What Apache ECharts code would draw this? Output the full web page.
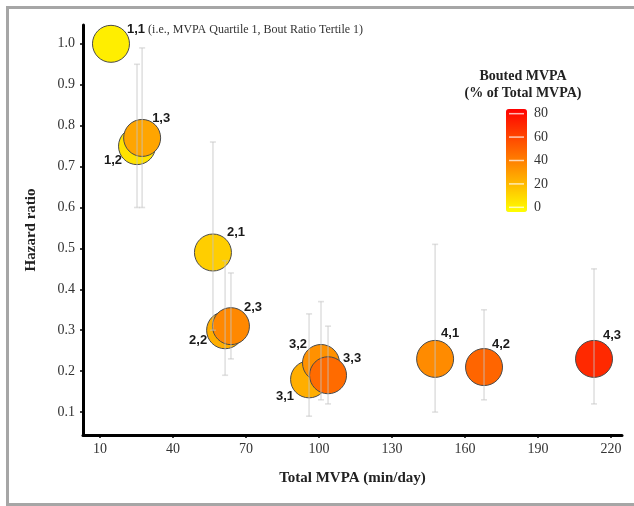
<!DOCTYPE html>
<html>
	<head>
		<meta charset="UTF-8" />
		<title>Hazard ratio by MVPA</title>
		<style>
			body { margin: 0; background: #fff; }
			#frame {
				position: absolute; left: 6px; top: 6px; width: 640px; height: 494px;
				border: 3px solid #a6a6a6; border-right: none;
			}
			#pic { position: absolute; left: 0; top: 0; width: 634px; height: 506px; }
		</style>
	</head>
	<body>
		<div id="frame"></div>
		<div id="pic"></div>
		<script src="https://cdn.jsdelivr.net/npm/echarts@6/dist/echarts.min.js"></script>
		<script>
			// groups: MVPA quartile, bout ratio tertile
			var groups = ['1,1', '1,2', '1,3', '2,1', '2,2', '2,3', '3,1', '3,2', '3,3', '4,1', '4,2', '4,3'];
			var totalMvpa = [14.5, 25.2, 27.3, 56.4, 61.4, 63.8, 95.9, 100.8, 103.7, 147.7, 167.8, 213];
			var hazard = [1.0, 0.75, 0.77, 0.49, 0.30, 0.31, 0.18, 0.22, 0.19, 0.23, 0.21, 0.23];
			var ciLow = [null, 0.60, 0.60, 0.30, 0.19, 0.23, 0.09, 0.13, 0.12, 0.10, 0.13, 0.12];
			var ciHigh = [null, 0.95, 0.99, 0.76, 0.47, 0.44, 0.34, 0.37, 0.31, 0.51, 0.35, 0.45];
			var boutedPct = [2, 6, 27, 13, 24, 37, 24, 34, 47, 36, 49, 70];
			var xTicks = [10, 40, 70, 100, 130, 160, 190, 220];
			var yTicks = [0.1, 0.2, 0.3, 0.4, 0.5, 0.6, 0.7, 0.8, 0.9, 1.0];
			var legendTicks = [0, 20, 40, 60, 80];

			// where each group label sits relative to its bubble
			var labelPlace = {
				'1,1': [16, -14, 'left'], '1,2': [-15, 14, 'right'], '1,3': [10, -20, 'left'],
				'2,1': [14, -20, 'left'], '2,2': [-18, 10, 'right'], '2,3': [13, -19, 'left'],
				'3,1': [-15, 17, 'right'], '3,2': [-14, -19, 'right'], '3,3': [15, -17, 'left'],
				'4,1': [6, -25, 'left'], '4,2': [8, -23, 'left'], '4,3': [9, -23, 'left']
			};

			var serif = 'Liberation Serif, Times New Roman, serif';
			var sans = 'Liberation Sans, Arial, sans-serif';

			var bubbles = [];
			var bars = [];
			for (var i = 0; i < groups.length; i++) {
				var p = labelPlace[groups[i]];
				var lab = {
					show: true,
					position: 'inside',
					offset: [p[0], p[1]],
					align: p[2],
					verticalAlign: 'middle',
					fontFamily: sans,
					fontWeight: 'bold',
					fontSize: 13,
					color: '#1a1a1a',
					formatter: groups[i]
				};
				if (i === 0) {
					lab.formatter = '{g|' + groups[i] + '}{n| (i.e., MVPA Quartile 1, Bout Ratio Tertile 1)}';
					lab.rich = {
						g: { fontFamily: sans, fontWeight: 'bold', fontSize: 13, color: '#1a1a1a' },
						n: { fontFamily: serif, fontWeight: 'normal', fontSize: 12, color: '#333' }
					};
				}
				bubbles.push({ value: [totalMvpa[i], hazard[i], boutedPct[i]], label: lab });
				if (ciLow[i] !== null) {
					bars.push([totalMvpa[i], ciLow[i], ciHigh[i]]);
				}
			}

			var legendMarks = [];
			for (var k = 0; k < legendTicks.length; k++) {
				legendMarks.push([0, legendTicks[k]]);
			}

			var myChart = echarts.init(document.getElementById('pic'));
			myChart.setOption({
				animation: false,
				grid: [
					{ left: 83, right: 12, top: 25, bottom: 71 },
					{ left: 506, top: 109, width: 21, height: 103 }
				],
				xAxis: [{
					type: 'value',
					min: 3,
					max: 224.5,
					name: 'Total MVPA (min/day)',
					nameLocation: 'middle',
					nameGap: 36,
					nameTextStyle: { fontFamily: serif, fontWeight: 'bold', fontSize: 15, color: '#222' },
					axisLine: { lineStyle: { color: '#000', width: 3 } },
					axisTick: { customValues: xTicks, length: 3, lineStyle: { color: '#000', width: 1.5 } },
					axisLabel: { customValues: xTicks, margin: 7, fontFamily: serif, fontSize: 14, color: '#333' },
					splitLine: { show: false }
				}, {
					type: 'value',
					gridIndex: 1,
					min: 0,
					max: 1,
					show: false
				}],
				yAxis: [{
					type: 'value',
					min: 0.044,
					max: 1.046,
					name: 'Hazard ratio',
					nameLocation: 'middle',
					nameRotate: 90,
					nameGap: 44,
					nameTextStyle: { fontFamily: serif, fontWeight: 'bold', fontSize: 15, color: '#222' },
					axisLine: { show: true, lineStyle: { color: '#000', width: 3 } },
					axisTick: { show: true, customValues: yTicks, length: 3, lineStyle: { color: '#000', width: 1.5 } },
					axisLabel: {
						customValues: yTicks, margin: 8, fontFamily: serif, fontSize: 14, color: '#333',
						formatter: function (v) { return v.toFixed(1); }
					},
					splitLine: { show: false }
				}, {
					// scale of the colour legend
					type: 'value',
					gridIndex: 1,
					min: -4,
					max: 84,
					position: 'right',
					axisLine: { show: false },
					axisTick: { show: false },
					axisLabel: { customValues: legendTicks, margin: 7, fontFamily: serif, fontSize: 14, color: '#333' },
					splitLine: { show: false }
				}],
				visualMap: {
					type: 'continuous',
					seriesIndex: 0,
					dimension: 2,
					min: -4,
					max: 84,
					calculable: false,
					hoverLink: false,
					left: 506,
					top: 109,
					padding: 0,
					itemWidth: 21,
					itemHeight: 103,
					inRange: { color: ['#ffff00', '#ff0000'] }
				},
				graphic: [{
					type: 'text',
					x: 523,
					y: 68,
					style: {
						text: 'Bouted MVPA\n(% of Total MVPA)',
						textAlign: 'center',
						fontFamily: serif,
						fontWeight: 'bold',
						fontSize: 14,
						lineHeight: 17,
						fill: '#222'
					}
				}],
				series: [{
					type: 'scatter',
					symbolSize: 37,
					itemStyle: { borderColor: '#4a4a4a', borderWidth: 1, opacity: 1 },
					data: bubbles,
					z: 2
				}, {
					type: 'custom',
					z: 3,
					silent: true,
					data: bars,
					renderItem: function (params, api) {
						var lo = api.coord([api.value(0), api.value(1)]);
						var hi = api.coord([api.value(0), api.value(2)]);
						var st = { stroke: 'rgba(195,195,195,0.5)', lineWidth: 1.6 };
						return {
							type: 'group',
							children: [
								{ type: 'line', shape: { x1: lo[0], y1: lo[1], x2: hi[0], y2: hi[1] }, style: st },
								{ type: 'line', shape: { x1: lo[0] - 3, y1: lo[1], x2: lo[0] + 3, y2: lo[1] }, style: st },
								{ type: 'line', shape: { x1: hi[0] - 3, y1: hi[1], x2: hi[0] + 3, y2: hi[1] }, style: st }
							]
						};
					}
				}, {
					// white marks across the colour bar
					type: 'custom',
					xAxisIndex: 1,
					yAxisIndex: 1,
					zlevel: 1,
					silent: true,
					data: legendMarks,
					renderItem: function (params, api) {
						var cs = params.coordSys;
						var y = api.coord([0, api.value(1)])[1];
						return {
							type: 'line',
							shape: { x1: cs.x + 3, y1: y, x2: cs.x + cs.width - 3, y2: y },
							style: { stroke: 'rgba(255,255,255,0.7)', lineWidth: 1.5 }
						};
					}
				}]
			});
		</script>
	</body>
</html>
